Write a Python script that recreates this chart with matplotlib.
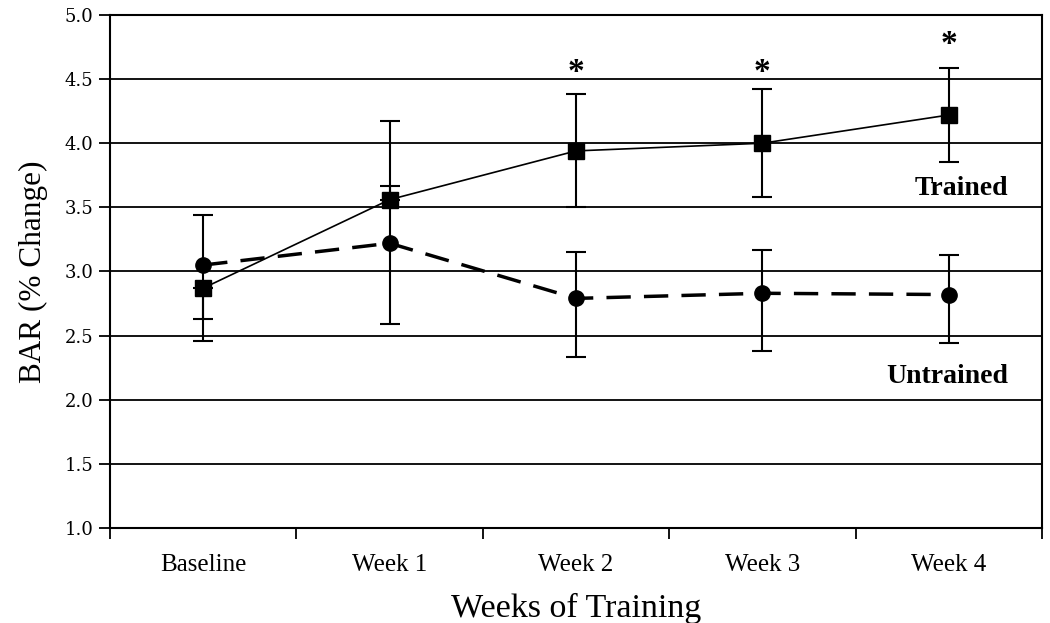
import numpy as np
import matplotlib.pyplot as plt

weeks = ['Baseline', 'Week 1', 'Week 2', 'Week 3', 'Week 4']

trained = [2.87, 3.56, 3.94, 4.00, 4.22]
trained_lo = [0.41, 0.0, 0.44, 0.42, 0.37]
trained_hi = [0.0, 0.615, 0.44, 0.42, 0.37]

untrained = [3.05, 3.22, 2.79, 2.83, 2.82]
untrained_lo = [0.42, 0.63, 0.46, 0.45, 0.38]
untrained_hi = [0.39, 0.45, 0.36, 0.34, 0.31]

star_weeks = [2, 3, 4]
star_y = [4.55, 4.55, 4.77]

x = np.arange(len(weeks))

fig = plt.figure(figsize=(10.5, 6.23), dpi=100)
ax = fig.add_axes([0.1048, 0.1525, 0.8876, 0.8235])

for yv in np.arange(1.5, 5.01, 0.5):
    ax.axhline(yv, color='black', lw=1.3, zorder=1)

ax.errorbar(x, untrained, yerr=[untrained_lo, untrained_hi], fmt='none',
            ecolor='black', elinewidth=1.5, capsize=7, capthick=1.5, zorder=2)
ax.errorbar(x, trained, yerr=[trained_lo, trained_hi], fmt='none',
            ecolor='black', elinewidth=1.5, capsize=7, capthick=1.5, zorder=2)

ax.plot(x, untrained, color='black', lw=2.5, ls=(0, (7, 3.8)), marker='o',
        markersize=11, zorder=3)
ax.plot(x, trained, color='black', lw=1.2, marker='s', markersize=11, zorder=4)

for w, sy in zip(star_weeks, star_y):
    ax.text(w, sy, '*', ha='center', va='center', fontsize=24,
            fontweight='bold', family='Liberation Serif')

ax.text(4.07, 3.65, 'Trained', ha='center', va='center', fontsize=20,
        fontweight='bold', family='Liberation Serif')
ax.text(3.99, 2.18, 'Untrained', ha='center', va='center', fontsize=20,
        fontweight='bold', family='Liberation Serif')

ax.set_xlim(-0.5, 4.5)
ax.set_ylim(1.0, 5.0)
ax.set_yticks(np.arange(1.0, 5.01, 0.5))
ax.set_yticklabels(['%.1f' % v for v in np.arange(1.0, 5.01, 0.5)],
                   family='DejaVu Serif', fontsize=13)
ax.set_xticks(np.arange(-0.5, 4.6, 1.0))
ax.set_xticklabels([])
ax.set_xticks(x, minor=True)
ax.set_xticklabels(weeks, minor=True, family='Liberation Serif', fontsize=18)
ax.tick_params(axis='x', which='minor', length=0, pad=19)
ax.tick_params(axis='x', which='major', length=8, width=1.3, direction='out')
ax.tick_params(axis='y', length=8, width=1.3, direction='out', pad=4)
for s in ax.spines.values():
    s.set_linewidth(1.5)

ax.set_xlabel('Weeks of Training', family='Liberation Serif', fontsize=24.5,
              labelpad=12)
ax.set_ylabel('BAR (% Change)', family='Liberation Serif', fontsize=22.5,
              labelpad=12)

fig.savefig('out.png', dpi=100)
